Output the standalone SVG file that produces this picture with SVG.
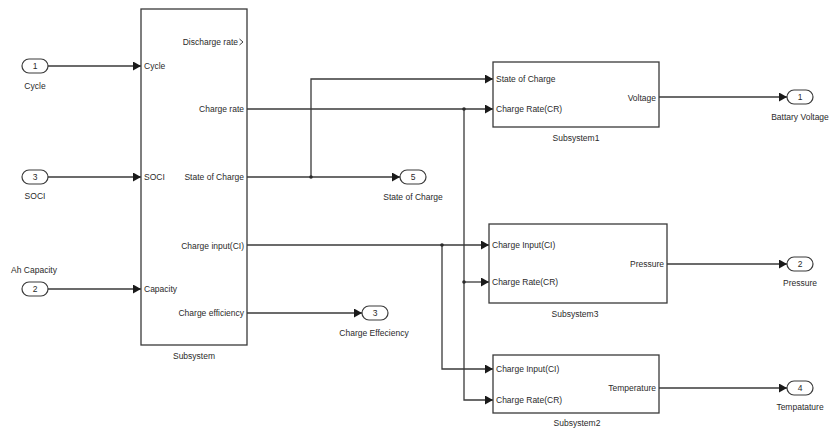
<svg xmlns="http://www.w3.org/2000/svg" width="832" height="434" viewBox="0 0 832 434">
<defs>
<style>
.blk{fill:#fff;stroke:#3a3a3a;stroke-width:1.3}
.port{fill:#fff;stroke:#3a3a3a;stroke-width:1.2}
.w{fill:none;stroke:#3a3a3a;stroke-width:1.3}
text{font-family:"Liberation Sans",Arial,sans-serif;font-size:8.5px;fill:#2a2a2a}
.c{text-anchor:middle}
.e{text-anchor:end}
.dot{fill:#2a2a2a}
</style>
<marker id="ah" markerUnits="userSpaceOnUse" markerWidth="9" markerHeight="10" refX="8" refY="4.5" orient="auto">
<path d="M0,0 L8,4.5 L0,9 Z" fill="#1a1a1a"/>
</marker>
</defs>
<rect width="832" height="434" fill="#fff"/>

<g id="connectors">
<path class="w" d="M48,66 H141" marker-end="url(#ah)"/>
<path class="w" d="M48,177 H141" marker-end="url(#ah)"/>
<path class="w" d="M48,289 H141" marker-end="url(#ah)"/>
<path class="w" d="M247,109 H493" marker-end="url(#ah)"/>
<path class="w" d="M464,109 V400 H493" marker-end="url(#ah)"/>
<path class="w" d="M464,282 H489" marker-end="url(#ah)"/>
<path class="w" d="M247,177 H400" marker-end="url(#ah)"/>
<path class="w" d="M311,177 V79 H493" marker-end="url(#ah)"/>
<path class="w" d="M247,245 H489" marker-end="url(#ah)"/>
<path class="w" d="M442,245 V369 H493" marker-end="url(#ah)"/>
<path class="w" d="M247,313 H362" marker-end="url(#ah)"/>
<path class="w" d="M659,97 H787" marker-end="url(#ah)"/>
<path class="w" d="M667,264 H787" marker-end="url(#ah)"/>
<path class="w" d="M659,388 H787" marker-end="url(#ah)"/>
<circle class="dot" cx="464" cy="109" r="1.8"/>
<circle class="dot" cx="464" cy="282" r="1.8"/>
<circle class="dot" cx="311" cy="177" r="1.8"/>
<circle class="dot" cx="442" cy="245" r="1.8"/>
</g>

<g id="in1">
<rect class="port" x="22" y="59" width="26" height="14" rx="7"/>
<text class="c" x="35" y="69">1</text>
<text class="c" x="35" y="89">Cycle</text>
</g>
<g id="in3">
<rect class="port" x="22" y="170" width="26" height="14" rx="7"/>
<text class="c" x="35" y="180">3</text>
<text class="c" x="35" y="199">SOCI</text>
</g>
<g id="in2">
<rect class="port" x="22" y="282" width="26" height="14" rx="7"/>
<text class="c" x="35" y="292">2</text>
<text class="c" x="34" y="273">Ah Capacity</text>
</g>

<g id="subsystem">
<rect class="blk" x="141" y="9" width="106" height="336"/>
<text x="144" y="69">Cycle</text>
<text x="144" y="180">SOCI</text>
<text x="144" y="292">Capacity</text>
<text class="e" x="238" y="45">Discharge rate</text>
<path d="M239.5,39 L243,42 L239.5,45" fill="none" stroke="#2a2a2a" stroke-width="0.9"/>
<text class="e" x="244" y="112">Charge rate</text>
<text class="e" x="244" y="180">State of Charge</text>
<text class="e" x="244" y="249">Charge input(CI)</text>
<text class="e" x="244" y="316">Charge efficiency</text>
<text class="c" x="194" y="359">Subsystem</text>
</g>

<g id="subsystem1">
<rect class="blk" x="493" y="62" width="166" height="65"/>
<text x="496" y="82">State of Charge</text>
<text x="496" y="112">Charge Rate(CR)</text>
<text class="e" x="656" y="101">Voltage</text>
<text class="c" x="576" y="141">Subsystem1</text>
</g>

<g id="subsystem3">
<rect class="blk" x="489" y="224" width="178" height="79"/>
<text x="492" y="248">Charge Input(CI)</text>
<text x="492" y="285">Charge Rate(CR)</text>
<text class="e" x="664" y="267">Pressure</text>
<text class="c" x="575" y="317">Subsystem3</text>
</g>

<g id="subsystem2">
<rect class="blk" x="493" y="355" width="166" height="58"/>
<text x="496" y="372">Charge Input(CI)</text>
<text x="496" y="403">Charge Rate(CR)</text>
<text class="e" x="656" y="391">Temperature</text>
<text class="c" x="577" y="426">Subsystem2</text>
</g>

<g id="out5">
<rect class="port" x="400" y="170" width="26" height="14" rx="7"/>
<text class="c" x="413" y="180">5</text>
<text class="c" x="413" y="200">State of Charge</text>
</g>
<g id="out3">
<rect class="port" x="362" y="306" width="26" height="14" rx="7"/>
<text class="c" x="375" y="316">3</text>
<text class="c" x="374" y="336">Charge Effeciency</text>
</g>
<g id="out1">
<rect class="port" x="787" y="90" width="26" height="14" rx="7"/>
<text class="c" x="800" y="100">1</text>
<text class="c" x="800" y="120">Battary Voltage</text>
</g>
<g id="out2">
<rect class="port" x="787" y="257" width="26" height="14" rx="7"/>
<text class="c" x="800" y="267">2</text>
<text class="c" x="800" y="286">Pressure</text>
</g>
<g id="out4">
<rect class="port" x="787" y="381" width="26" height="14" rx="7"/>
<text class="c" x="800" y="391">4</text>
<text class="c" x="800" y="410">Tempatature</text>
</g>
</svg>
